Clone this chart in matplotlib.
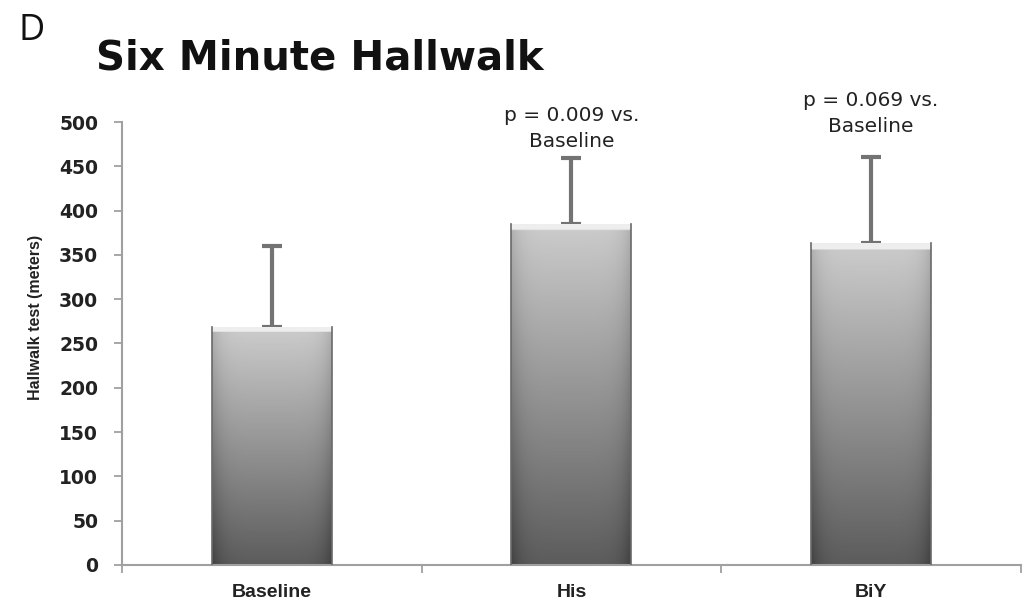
import numpy as np
import matplotlib
matplotlib.use('Agg')
from matplotlib import pyplot as plt
from matplotlib.colors import LinearSegmentedColormap

# six minute hallwalk distance per pacing mode
groups = ['Baseline', 'His', 'BiY']
means = [268, 385, 363]
sds = [92, 74, 97]
notes = ['', 'p = 0.009 vs.\nBaseline', 'p = 0.069 vs.\nBaseline']
note_y = [0, 467, 484]
yticks = list(range(0, 501, 50))

narrow = ['Liberation Sans Narrow', 'Liberation Sans', 'DejaVu Sans']
wide = ['DejaVu Sans']


def _shade(nx=60, ny=200):
    # vertical light-to-dark ramp with darker edges and a bright cap at the top
    v = np.linspace(0.0, 1.0, ny)[:, None]
    u = np.linspace(-1.0, 1.0, nx)[None, :]
    img = 0.36 + 0.44 * v
    img = img - 0.10 * np.abs(u) ** 6
    img[-4:, :] = 0.93
    return np.clip(img, 0, 1) * np.ones((ny, nx))


fig = plt.figure(figsize=(10.24, 6.1), dpi=100)
ax = fig.add_axes([0.119, 0.074, 0.878, 0.726])

x = np.arange(len(groups))
width = 0.4
gray = LinearSegmentedColormap.from_list('g', ['#000000', '#ffffff'])
bars = ax.bar(x, means, width=width, color='none', edgecolor='none', zorder=2)
for b in bars:
    x0, w, h = b.get_x(), b.get_width(), b.get_height()
    im = ax.imshow(_shade(), extent=[x0, x0 + w, 0, h], origin='lower', aspect='auto',
                   cmap=gray, vmin=0, vmax=1, zorder=2, interpolation='bilinear')
    im.set_clip_path(b)
    ax.plot([x0, x0], [0, h], color='#6a6a6a', lw=1.2, zorder=3)
    ax.plot([x0 + w, x0 + w], [0, h], color='#6a6a6a', lw=1.2, zorder=3)

ax.errorbar(x, means, yerr=[[0] * len(means), sds], fmt='none', ecolor='#737373',
            elinewidth=3, capsize=7, capthick=3, zorder=1)

for xi, txt, yi in zip(x, notes, note_y):
    if txt:
        ax.text(xi, yi, txt, ha='center', va='bottom', fontsize=14.5, family=wide,
                color='#222222', linespacing=1.45)

ax.set_xlim(-0.5, len(groups) - 0.5)
ax.set_ylim(0, 500)
ax.set_yticks(yticks)
ax.set_yticklabels([str(t) for t in yticks], fontsize=13.5, family=wide, fontweight='bold',
                   color='#222222')
ax.set_xticks(np.arange(len(groups) + 1) - 0.5)
ax.set_xticklabels([])
ax.set_xticks(x, minor=True)
ax.set_xticklabels(groups, minor=True, fontsize=14, family=narrow, fontweight='bold',
                   color='#222222')
ax.tick_params(axis='x', which='minor', length=0, pad=14)
ax.tick_params(axis='x', which='major', length=6, color='#a0a0a0', width=1.3)
ax.tick_params(axis='y', length=6, color='#a0a0a0', width=1.3, pad=11)

for s in ['top', 'right']:
    ax.spines[s].set_visible(False)
for s in ['left', 'bottom']:
    ax.spines[s].set_color('#a0a0a0')
    ax.spines[s].set_linewidth(1.5)

ax.set_ylabel('Hallwalk test (meters)', fontsize=11.5, family=narrow, fontweight='bold',
              color='#222222')
ax.yaxis.set_label_coords(-0.088, 0.558)

fig.text(0.018, 0.935, 'D', fontsize=26, family=['Open Sans', 'DejaVu Sans'], color='#111111')
fig.text(0.094, 0.904, 'Six Minute Hallwalk', fontsize=29, family=wide, fontweight='bold',
         color='#111111', va='center')

fig.savefig('out.png', dpi=100)
